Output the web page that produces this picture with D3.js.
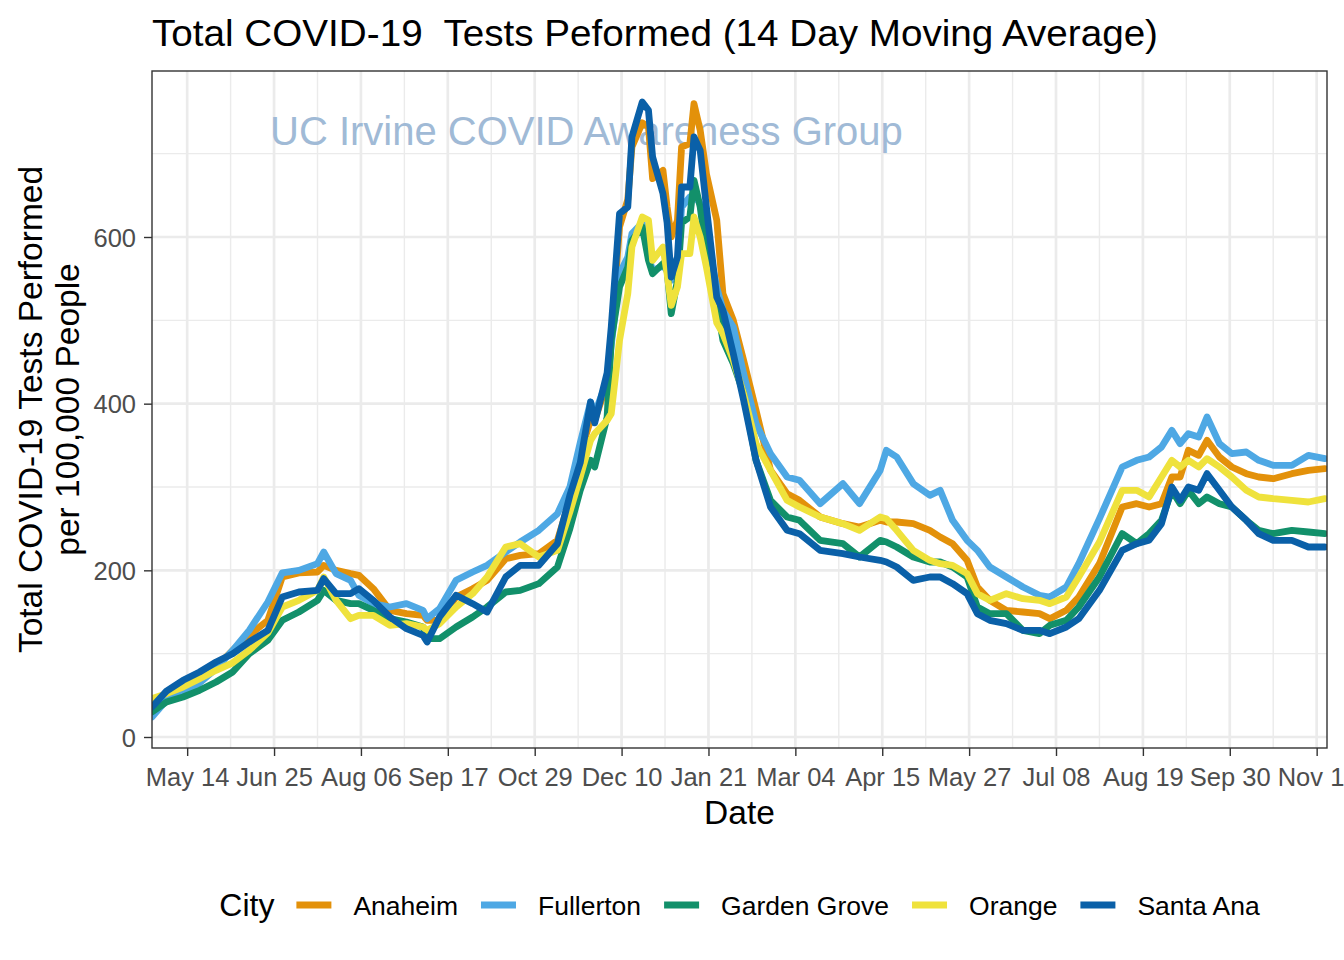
<!DOCTYPE html>
<html><head><meta charset="utf-8">
<script src="https://cdn.jsdelivr.net/npm/d3@7"></script>
<style>
body{margin:0;background:#fff}
text{font-family:"Liberation Sans",Arial,Helvetica,sans-serif}
</style>
</head><body>
<svg id="chart" width="1344" height="960"></svg>
<script>
// ---------------- data ----------------
const dates = ["2020-04-27","2020-05-04","2020-05-12","2020-05-20","2020-05-28","2020-06-05","2020-06-13","2020-06-22","2020-06-29","2020-07-07",
"2020-07-16","2020-07-19","2020-07-25","2020-08-01","2020-08-05","2020-08-12","2020-08-20","2020-08-28","2020-09-05","2020-09-07",
"2020-09-13","2020-09-21","2020-09-29","2020-10-06","2020-10-15","2020-10-22","2020-10-31","2020-11-09","2020-11-15","2020-11-20",
"2020-11-25","2020-11-27","2020-12-03","2020-12-05","2020-12-09","2020-12-13","2020-12-15","2020-12-20","2020-12-23","2020-12-25",
"2020-12-30","2021-01-01","2021-01-03","2021-01-06","2021-01-08","2021-01-12","2021-01-14","2021-01-17","2021-01-20","2021-01-25",
"2021-01-28","2021-02-02","2021-02-07","2021-02-13","2021-02-20","2021-02-28","2021-03-06","2021-03-16","2021-03-27","2021-04-04",
"2021-04-14","2021-04-17","2021-04-22","2021-04-30","2021-05-08","2021-05-13","2021-05-19","2021-05-26","2021-05-31","2021-06-06",
"2021-06-14","2021-06-22","2021-06-30","2021-07-05","2021-07-13","2021-07-19","2021-07-29","2021-08-09","2021-08-16","2021-08-22",
"2021-08-28","2021-09-02","2021-09-06","2021-09-10","2021-09-15","2021-09-19","2021-09-25","2021-10-01","2021-10-08","2021-10-14",
"2021-10-21","2021-10-30","2021-11-07","2021-11-15"];

const anaheim = [40,50,58,68,84,104,122,140,192,197,
198,206,200,196,194,178,152,148,146,140,
140,168,178,188,214,218,220,236,285,340,
380,380,425,480,612,645,708,737,732,670,
680,636,600,620,708,712,760,728,676,620,
532,500,452,392,320,292,284,264,256,252,
260,258,258,256,248,240,232,212,180,164,
152,150,148,142,152,168,208,276,280,276,
280,312,312,344,338,356,336,324,316,312,
310,316,320,322];

const fullerton = [24,44,52,65,82,104,128,162,197,200,
208,222,196,188,170,160,156,160,152,142,
154,188,198,206,222,234,248,268,300,353,
402,388,428,470,556,576,604,617,576,560,
565,560,548,560,636,648,650,640,600,540,
512,492,436,376,340,312,308,280,304,280,
320,344,336,304,290,296,260,236,224,204,
192,180,170,168,180,208,262,324,332,336,
348,368,352,364,360,384,352,340,342,332,
326,326,338,334];

const gardenGrove = [30,42,48,56,66,78,100,116,140,150,
164,176,164,160,160,152,142,138,132,118,
118,132,144,156,174,176,184,204,250,296,
332,324,384,476,540,564,596,612,572,556,
568,560,508,548,617,624,668,636,580,520,
476,448,412,332,284,264,260,236,232,216,
236,234,228,216,210,210,204,192,156,148,
148,128,124,134,140,156,192,244,232,244,
260,296,280,296,280,288,280,276,260,248,
244,248,246,244];

const orange = [46,52,60,70,80,89,104,125,156,164,
176,192,164,142,146,146,134,136,132,128,
136,156,172,192,228,232,216,224,270,312,
356,364,380,388,476,532,588,624,620,572,
588,556,518,540,580,580,624,600,564,497,
484,452,412,352,320,284,276,264,256,248,
264,262,248,224,212,208,206,196,172,164,
172,166,164,160,168,192,234,296,296,288,
312,332,324,332,324,334,324,312,296,288,
286,284,282,286];

const santaAna = [36,55,68,78,90,100,114,128,168,174,
176,190,172,172,178,164,144,130,122,114,
144,170,160,150,192,206,206,232,290,329,
402,377,437,492,628,636,720,762,752,696,
652,617,552,576,660,660,720,704,636,528,
512,460,404,332,276,248,244,224,220,216,
212,210,204,188,192,192,184,172,148,140,
136,128,128,124,132,142,176,224,232,236,
256,300,284,300,296,316,296,276,260,244,
236,236,228,228];

const cities = ["Anaheim","Fullerton","Garden Grove","Orange","Santa Ana"];
const cityColors = ["#E3910A","#4EA8E4","#12906A","#EFE23C","#0A60A8"];
const xTickDates = ["2020-05-14","2020-06-25","2020-08-06","2020-09-17","2020-10-29","2020-12-10","2021-01-21",
"2021-03-04","2021-04-15","2021-05-27","2021-07-08","2021-08-19","2021-09-30","2021-11-11"];
const yTicks = [0,200,400,600];
const yMinorTicks = [100,300,500,700];
const xDomain = ["2020-04-27","2021-11-16"];
const yDomain = [-13.2, 799.2];

// ---------------- chart ----------------
const parse = d3.utcParse("%Y-%m-%d");
const fmt = d3.utcFormat("%b %d");
const svg = d3.select("#chart");
svg.append("rect").attr("width",1344).attr("height",960).attr("fill","#fff");

const P = {l:152, r:1327, t:71, b:748};
const x = d3.scaleUtc().domain(xDomain.map(parse)).range([P.l, P.r]);
const y = d3.scaleLinear().domain(yDomain).range([P.b, P.t]);

const majorX = xTickDates.map(parse);
const minorX = majorX.map(d => d3.utcDay.offset(d, 21)).filter(d => d > x.domain()[0] && d < x.domain()[1]);

const grid = svg.append("g");
grid.selectAll(".mx").data(minorX).join("line")
  .attr("x1", d => x(d)).attr("x2", d => x(d)).attr("y1", P.t).attr("y2", P.b)
  .attr("stroke", "#EBEBEB").attr("stroke-width", 1.4);
grid.selectAll(".my").data(yMinorTicks).join("line")
  .attr("x1", P.l).attr("x2", P.r).attr("y1", d => y(d)).attr("y2", d => y(d))
  .attr("stroke", "#EBEBEB").attr("stroke-width", 1.4);
grid.selectAll(".Mx").data(majorX).join("line")
  .attr("x1", d => x(d)).attr("x2", d => x(d)).attr("y1", P.t).attr("y2", P.b)
  .attr("stroke", "#EBEBEB").attr("stroke-width", 2.7);
grid.selectAll(".My").data(yTicks).join("line")
  .attr("x1", P.l).attr("x2", P.r).attr("y1", d => y(d)).attr("y2", d => y(d))
  .attr("stroke", "#EBEBEB").attr("stroke-width", 2.7);

// watermark
svg.append("text").attr("x", 270).attr("y", 145)
  .attr("font-size", 40).attr("fill", "#A0BAD6")
  .text("UC Irvine COVID Awareness Group");

// lines
svg.append("clipPath").attr("id","clip").append("rect")
  .attr("x",P.l).attr("y",P.t).attr("width",P.r-P.l).attr("height",P.b-P.t);
const seriesValues = [anaheim, fullerton, gardenGrove, orange, santaAna];
const dParsed = dates.map(parse);
const line = d3.line().x((v,i) => x(dParsed[i])).y(v => y(v));
const lg = svg.append("g").attr("clip-path","url(#clip)");
seriesValues.forEach((vals, k) => {
  lg.append("path").datum(vals).attr("d", line)
    .attr("fill","none").attr("stroke", cityColors[k]).attr("stroke-width", 6.8)
    .attr("stroke-linejoin","round").attr("stroke-linecap","round");
});

// panel border
svg.append("rect").attr("x",P.l).attr("y",P.t).attr("width",P.r-P.l).attr("height",P.b-P.t)
  .attr("fill","none").attr("stroke","#333333").attr("stroke-width",1.4);

// axes
const xAxis = svg.append("g").attr("transform",`translate(0,${P.b})`)
  .call(d3.axisBottom(x).tickValues(majorX).tickFormat(fmt).tickSize(8).tickSizeOuter(0));
xAxis.select(".domain").remove();
xAxis.selectAll(".tick line").attr("stroke","#333333").attr("stroke-width",1.4);
xAxis.selectAll(".tick text").attr("y",38).attr("dy",null)
  .attr("font-size",25.5).attr("fill","#4D4D4D").attr("font-family",null);

const yAxis = svg.append("g").attr("transform",`translate(${P.l},0)`)
  .call(d3.axisLeft(y).tickValues(yTicks).tickSize(8).tickPadding(8).tickSizeOuter(0));
yAxis.select(".domain").remove();
yAxis.selectAll(".tick line").attr("stroke","#333333").attr("stroke-width",1.4);
yAxis.selectAll(".tick text").attr("font-size",25.5).attr("fill","#4D4D4D").attr("font-family",null).attr("dy","0.36em");

// titles
svg.append("text").attr("x",152).attr("y",46).attr("font-size",37.5).attr("fill","#000")
  .attr("textLength",1006).attr("lengthAdjust","spacingAndGlyphs")
  .style("white-space","pre").text("Total COVID-19  Tests Peformed (14 Day Moving Average)");
svg.append("text").attr("x",(P.l+P.r)/2).attr("y",824).attr("text-anchor","middle")
  .attr("font-size",33.5).text("Date");
const yt = svg.append("g").attr("transform",`translate(0,${(P.t+P.b)/2})`);
yt.append("text").attr("transform","translate(42,0) rotate(-90)").attr("text-anchor","middle")
  .attr("font-size",33.5).text("Total COVID-19 Tests Performed");
yt.append("text").attr("transform","translate(79,0) rotate(-90)").attr("text-anchor","middle")
  .attr("font-size",33.5).text("per 100,000 People");

// legend
const leg = svg.append("g");
const ly = 905;
const title = leg.append("text").attr("y", ly + 11).attr("font-size",32).text("City");
const tW = title.node().getComputedTextLength();
let cx = tW + 22;
cities.forEach((c,k) => {
  leg.append("line").attr("x1",cx).attr("x2",cx+35).attr("y1",ly).attr("y2",ly)
    .attr("stroke",cityColors[k]).attr("stroke-width",7);
  const t = leg.append("text").attr("x",cx+35+22).attr("y",ly+9.5).attr("font-size",26.5).text(c);
  const w = t.node().getComputedTextLength();
  cx = cx + 35 + 22 + w + 23;
});
const totalW = cx - 23;
leg.attr("transform",`translate(${(P.l+P.r)/2 - totalW/2},0)`);
</script>
</body></html>
